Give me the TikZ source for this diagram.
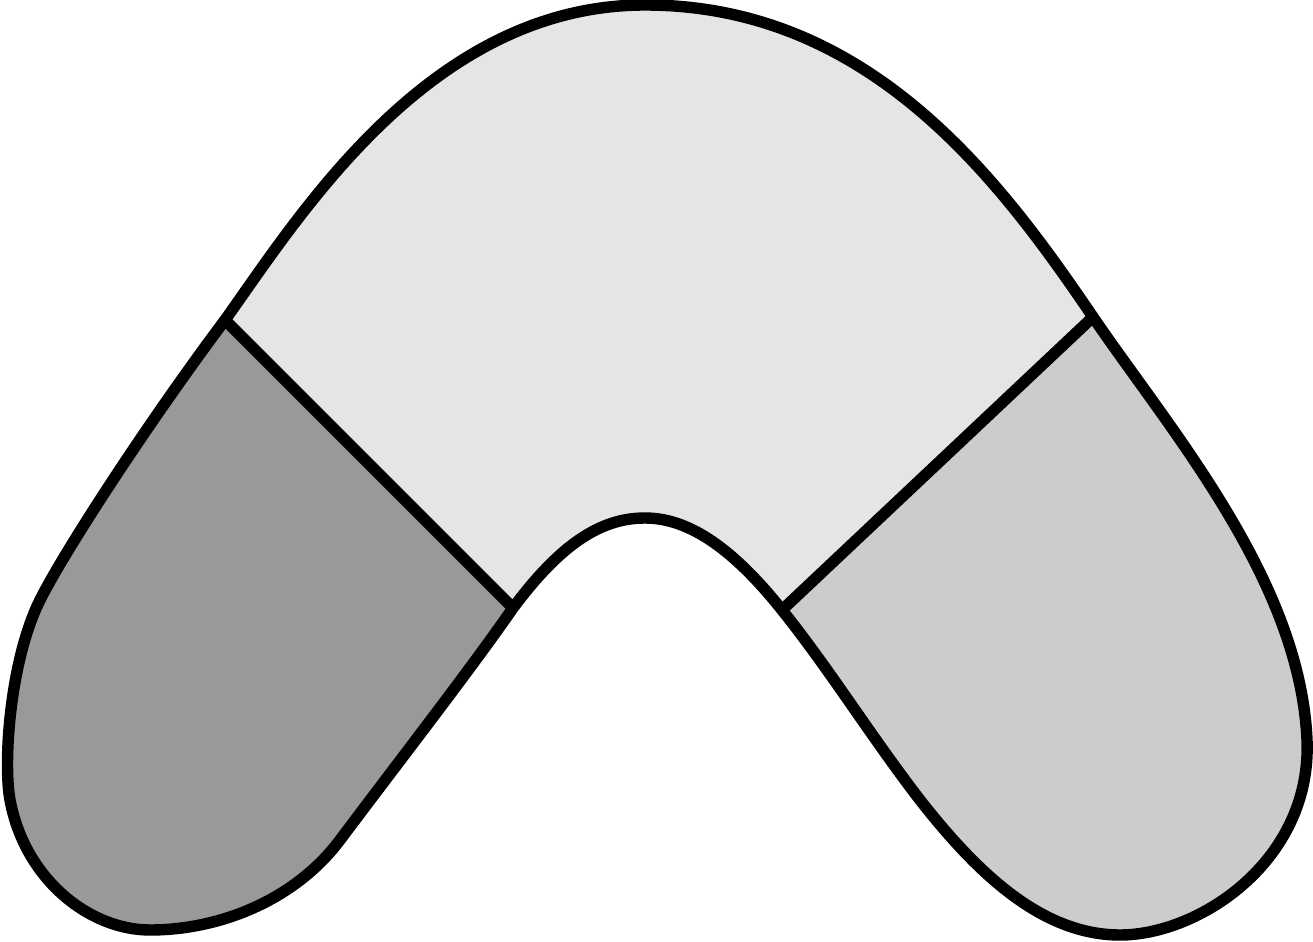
\documentclass[tikz,border=0pt]{standalone}
\usetikzlibrary{calc}

\definecolor{leftgray}{gray}{0.6}
\definecolor{topgray}{gray}{0.9}
\definecolor{rightgray}{gray}{0.8}

\begin{document}
\begin{tikzpicture}[x=0.02cm, y=-0.02cm, edge/.style={line width=6.5pt, line join=round}]
            \useasboundingbox (0,0) rectangle (1313,942);
            \coordinate (LT) at (225,320); \coordinate (LB) at (513,608);
            \coordinate (RT) at (1093,317); \coordinate (RB) at (782,610);
            \coordinate (Top) at (645,5); \coordinate (Dip) at (645,518);
            \path[save path=\outline] (150,930)
                .. controls (90,930) and (25,880) .. (10,800)
                .. controls (3,762) and (10,660) .. (40,600)
                .. controls (65,550) and (150,420) .. (LT)
                .. controls (300,215) and (430,5) .. (Top)
                .. controls (870,5) and (1000,180) .. (RT)
                .. controls (1170,430) and (1300,580) .. (1307,740)
                .. controls (1312,860) and (1200,935) .. (1120,935)
                .. controls (1040,935) and (975,870) .. (920,800)
                .. controls (870,735) and (830,670) .. (RB)
                .. controls (734,550) and (690,518) .. (Dip)
                .. controls (600,518) and (560,545) .. (LB)
                .. controls (470,670) and (400,760) .. (340,840)
                .. controls (295,900) and (220,930) .. cycle;
            \begin{scope}
                \clip[use path=\outline];
                \fill[topgray] (0,0) rectangle (1313,942);
                \fill[leftgray] ($(LT)!-0.35!(LB)$) -- ($(LB)!-0.35!(LT)$) -- (700,942) -- (0,942) -- (0,220) -- cycle;
                \fill[rightgray] ($(RT)!-0.3!(RB)$) -- ($(RB)!-0.25!(RT)$) -- (760,942) -- (1313,942) -- (1313,223) -- cycle;
            \end{scope}
            \draw[edge] (LT) -- (LB);
            \draw[edge] (RT) -- (RB);
            \draw[edge, use path=\outline];
        \end{tikzpicture}
\end{document}
